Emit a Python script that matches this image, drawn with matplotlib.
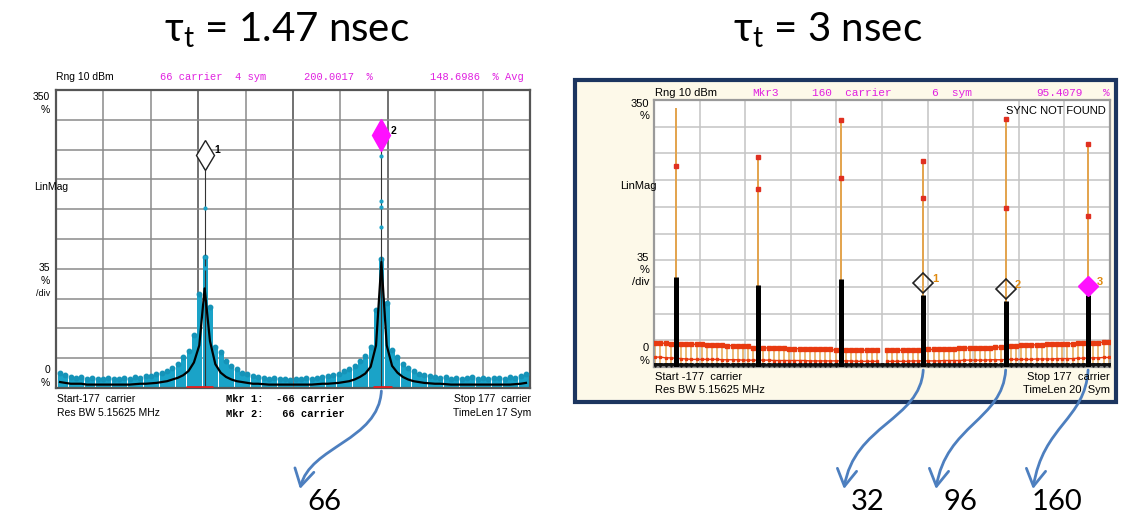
import numpy as np
import matplotlib
matplotlib.use("Agg")
import matplotlib.pyplot as plt
from matplotlib.patches import Rectangle, FancyArrowPatch
from matplotlib.path import Path

plt.rcParams['mathtext.default'] = 'regular'

# ---- data: left panel (tau = 1.47 nsec), carriers -174..174 step 4
left_car = list(range(-174, 175, 4))
left_hi = [18, 15, 13, 12, 13, 11, 12, 10, 11, 12,
           11, 10, 12, 11, 13, 12, 14, 14, 16, 18,
           20, 24, 28, 36, 44, 62, 110, 154, 95, 48,
           42, 32, 26, 22, 18, 16, 14, 13, 12, 11,
           12, 11, 10, 9, 10, 11, 12, 11, 12, 13,
           14, 15, 17, 20, 22, 26, 32, 38, 48, 92,
           151, 100, 45, 36, 28, 24, 20, 17, 15, 14,
           13, 12, 13, 11, 12, 11, 12, 13, 11, 12,
           11, 12, 12, 11, 13, 12, 14, 16]
left_avg = [7, 6, 5, 5, 5, 4, 4, 4, 4, 4,
            4, 4, 4, 4, 4.5, 5, 5, 5.5, 6, 7,
            8, 10, 12, 15, 20, 30, 50, 117, 55, 28,
            18, 13, 10, 8, 7, 6, 5, 5, 4.5, 4,
            4, 4, 4, 4, 4, 4, 4, 4, 4.5, 5,
            5, 5.5, 6, 7, 8, 10, 13, 17, 25, 50,
            148, 50, 26, 18, 13, 10, 8, 7, 6, 5.5,
            5, 5, 4.5, 4, 4, 4, 4, 4, 4, 4,
            4, 4, 4, 4, 4, 4.5, 5, 6]
left_red_spans = [(-80, -60), (60, 74)]
left_mkr_car = [-66, 66]
left_mkr_val = [274, 297]
left_thin_dots = [[260, 211, 154, 141], [272, 220, 212, 189]]

# ---- data: right panel (tau = 3 nsec)
peak_car = [-160, -96, -32, 32, 96, 160]
peak_black = [118, 108, 115, 95, 87, 94]
stem_top = [339, 275, 324, 271, 325, 292]
stem_dots = [[264], [275, 233], [324, 248], [270, 222], [325, 208], [292, 198]]
right_car = [c for c in range(-176, 177, 4) if c not in peak_car]
right_top = [31, 31.5, 31, 30.5,
             30.5, 30, 30, 29.5, 29.5, 29, 29, 28.5, 28.5, 28, 28, 27.5, 27, 27, 25,
             25, 25, 24.5, 24.5, 24.5, 24, 24, 24, 24, 24, 23.5, 23.5, 23.5, 23, 22,
             22, 22, 22, 22, 22, 22, 22, np.nan, 22, 22, 22, 22, 22.5, 22.5, 22,
             23, 23, 23.5, 23.5, 24, 24, 24.5, 24.5, 25, 25, 25, 25.5, 25.5, 26, 26,
             28, 28, 28.5, 28.5, 29, 29, 29, 29.5, 29.5, 30, 30, 30.5, 30.5, 31, 31,
             32, 32, 32.5, 32.5]
right_low = [13, 13, 12, 12,
             11, 10.5, 10, 10, 10, 10, 10, 10, 9.5, 9.5, 9.5, 9.5, 9, 9, 9,
             9, 9, 8.5, 8.5, 8.5, 8.5, 8.5, 8.5, 8.5, 8, 8, 8, 8, 8, 8,
             8, 8, 7.5, 7.5, 7.5, 7.5, 7.5, np.nan, 7.5, 7.5, 7.5, 7.5, 7.5, 8, 8,
             8, 8, 8, 8.5, 8.5, 8.5, 8.5, 9, 9, 9, 9, 9, 9.5, 9.5, 9.5,
             10, 10, 10, 10, 10, 10.5, 10.5, 10.5, 10.5, 11, 11, 11, 11, 11.5, 11.5,
             12, 12, 12.5, 12.5]
right_black = [3] * 4 + [2.5] * 75 + [3] * 4
right_mkr_car = [32, 96, 160]
right_mkr_val = [110, 102, 106]

W, H = 1126, 523
fig = plt.figure(figsize=(W / 100, H / 100), dpi=100)

def px_axes(x0, y0, x1, y1, z):
    return fig.add_axes([x0 / W, 1 - y1 / H, (x1 - x0) / W, (y1 - y0) / H], zorder=z)

ov = px_axes(0, 0, W, H, 0)
ov.set_xlim(0, W)
ov.set_ylim(H, 0)
ov.axis('off')

SANS = 'Liberation Sans'
MONO = 'Liberation Mono'
MAG = '#e020e0'

def txt(x, y, s, **kw):
    kw.setdefault('family', SANS)
    kw.setdefault('fontsize', 7.5)
    kw.setdefault('va', 'center')
    ov.text(x, y, s, **kw)

def ftxt(x, y, s, **kw):
    # drawn above the plot axes
    kw.setdefault('family', SANS)
    kw.setdefault('fontsize', 7.5)
    kw.setdefault('va', 'center')
    fig.text(x / W, 1 - y / H, s, zorder=10, **kw)

def setup(ax, gcol, dark, spcol):
    ax.set_xlim(-177, 177)
    ax.set_ylim(0, 350)
    ax.set_xticks([])
    ax.set_yticks([])
    xs = np.linspace(-177, 177, 11)
    for k, x in enumerate(xs[1:-1], 1):
        ax.axvline(x, color=dark if k in (3, 5, 7) else gcol, lw=1.1, zorder=0)
    for y in range(35, 350, 35):
        ax.axhline(y, color=gcol, lw=1.1, zorder=0)
    for s in ax.spines.values():
        s.set_color(spcol)
        s.set_linewidth(1.6)

# ---------------- left panel
axl = px_axes(56, 90, 530, 388, 2)
setup(axl, '#8a8a8a', '#4a4a4a', '#555555')
axl.vlines(left_car, 0, left_hi, color='#1aa3c8', lw=3.6, zorder=2)
axl.plot(left_car, left_hi, 'o', color='#1593b8', ms=3.2, zorder=3)
for c, v, dots in zip(left_mkr_car, left_mkr_val, left_thin_dots):
    axl.vlines(c, 0, v, color='#333333', lw=0.8, zorder=3)
    axl.plot([c] * len(dots), dots, 'o', color='#1aa3c8', ms=2, zorder=3)
axl.plot(left_car, left_avg, color='black', lw=1.6, zorder=4)
for a, b in left_red_spans:
    axl.hlines(1.5, a, b, color='#e02020', lw=2, zorder=5)
axl.plot(left_mkr_car[0], left_mkr_val[0], 'd', ms=15, mfc='white', mec='#222222', mew=1, zorder=6)
axl.plot(left_mkr_car[1], left_mkr_val[1], 'd', ms=16, mfc='#ff10ff', mec='#ff10ff', zorder=6)
for i, (c, v) in enumerate(zip(left_mkr_car, left_mkr_val), 1):
    axl.text(c + 7, v + 5, str(i), fontsize=7.5, fontweight='bold', family=SANS, va='center')

txt(56, 77, 'Rng 10 dBm')
txt(160, 77, '66 carrier  4 sym', family=MONO, color=MAG)
txt(304, 77, '200.0017  %', family=MONO, color=MAG)
txt(430, 77, '148.6986  % Avg', family=MONO, color=MAG)
txt(50, 97, '350', ha='right')
txt(50, 110, '%', ha='right')
ftxt(34, 187, 'LinMag')
txt(50, 268, '35', ha='right')
txt(50, 281, '%', ha='right')
txt(50, 293, '/div', ha='right', fontsize=6.5)
txt(50, 370, '0', ha='right')
txt(50, 383, '%', ha='right')
txt(57, 399, 'Start-177  carrier')
txt(57, 413, 'Res BW 5.15625 MHz')
txt(226, 399, 'Mkr 1:  -66 carrier', family=MONO, fontweight='bold')
txt(226, 414, 'Mkr 2:   66 carrier', family=MONO, fontweight='bold')
txt(531, 399, 'Stop 177  carrier', ha='right')
txt(531, 413, 'TimeLen 17 Sym', ha='right')

# ---------------- right panel
ov.add_patch(Rectangle((575, 80), 541, 322, facecolor='#fdf9e9', edgecolor='#1c355f', lw=3))
axr = px_axes(654, 100, 1110, 367, 2)
setup(axr, '#c4c4c4', '#c4c4c4', '#9a9a9a')
axr.vlines(right_car, right_black, right_top, color='#e9b060', lw=1.2, zorder=2)
axr.plot(right_car, right_top, '-s', color='#e83a10', lw=1.0, ms=2.4, zorder=3)
axr.plot(right_car, right_low, '-s', color='#e83a10', lw=1.0, ms=2.0, zorder=3)
axr.plot(right_car, right_black, '-v', color='#111111', lw=2.2, ms=2.6, zorder=4)
axr.vlines(peak_car, 0, stem_top, color='#e3a34c', lw=1.4, zorder=3)
for c, dots in zip(peak_car, stem_dots):
    axr.plot([c] * len(dots), dots, 's', color='#e03020', ms=3, zorder=4)
axr.vlines(peak_car, 0, peak_black, color='black', lw=3.6, zorder=5)
axr.plot(right_mkr_car[:2], right_mkr_val[:2], 'D', ms=10, mfc='none', mec='#222222', mew=1.2, zorder=6)
axr.plot(right_mkr_car[2], right_mkr_val[2], 'D', ms=10, mfc='#ff10ff', mec='#ff10ff', zorder=6)
for i, (c, v) in enumerate(zip(right_mkr_car, right_mkr_val), 1):
    axr.text(c + 7, v + 6, str(i), fontsize=8, fontweight='bold', color='#e08a10', family=SANS, va='center')
axr.text(174, 335, 'SYNC NOT FOUND', ha='right', va='center', fontsize=8, family=SANS)

txt(655, 93, 'Rng 10 dBm', fontsize=8)
txt(752, 93, 'Mkr3', family=MONO, color=MAG, fontsize=8)
txt(812, 93, '160  carrier', family=MONO, color=MAG, fontsize=8)
txt(932, 93, '6  sym', family=MONO, color=MAG, fontsize=8)
txt(1036, 93, '95.4079', family=MONO, color=MAG, fontsize=8)
txt(1103, 93, '%', family=MONO, color=MAG, fontsize=8)
txt(649, 104, '350', ha='right', fontsize=8)
txt(649, 116, '%', ha='right', fontsize=8)
ftxt(620, 186, 'LinMag', fontsize=8)
txt(649, 258, '35', ha='right', fontsize=8)
txt(649, 270, '%', ha='right', fontsize=8)
txt(649, 282, '/div', ha='right', fontsize=8)
txt(649, 348, '0', ha='right', fontsize=8)
txt(649, 361, '%', ha='right', fontsize=8)
txt(655, 377, 'Start -177  carrier', fontsize=8)
txt(655, 390, 'Res BW 5.15625 MHz', fontsize=8)
txt(1110, 377, 'Stop 177  carrier', ha='right', fontsize=8)
txt(1110, 390, 'TimeLen 20  Sym', ha='right', fontsize=8)

# ---------------- titles
TF = 'Lato'
ov.text(287, 30, r'$\tau_t$ = 1.47 nsec', ha='center', va='center', fontsize=29, family=TF)
ov.text(828, 30, r'$\tau_t$ = 3 nsec', ha='center', va='center', fontsize=29, family=TF)

# ---------------- arrows to carrier labels
def to_px(ax, c, v):
    return ov.transData.inverted().transform(ax.transData.transform((c, v)))

BLUE = '#4d7fbf'
arrows = [(axl, 66, 324, 502, '66'), (axr, 32, 868, 502, '32'),
          (axr, 96, 960, 502, '96'), (axr, 160, 1057, 502, '160')]
for ax, c, tx, ty, lab in arrows:
    x0, y0 = to_px(ax, c, 0)
    y0 += 3
    x1, y1 = tx - 24, ty - 13
    p = Path([(x0, y0), (x0 - 3, y0 + 50), (x1 + 10, y0 + 55), (x1, y1)],
             [Path.MOVETO, Path.CURVE4, Path.CURVE4, Path.CURVE4])
    ov.add_patch(FancyArrowPatch(path=p, arrowstyle='->,head_length=0.6,head_width=0.35',
                                 mutation_scale=20, color=BLUE, lw=2))
    ov.text(tx, ty, lab, ha='center', va='center', fontsize=21, family=TF)

fig.savefig('out.png', dpi=100)
